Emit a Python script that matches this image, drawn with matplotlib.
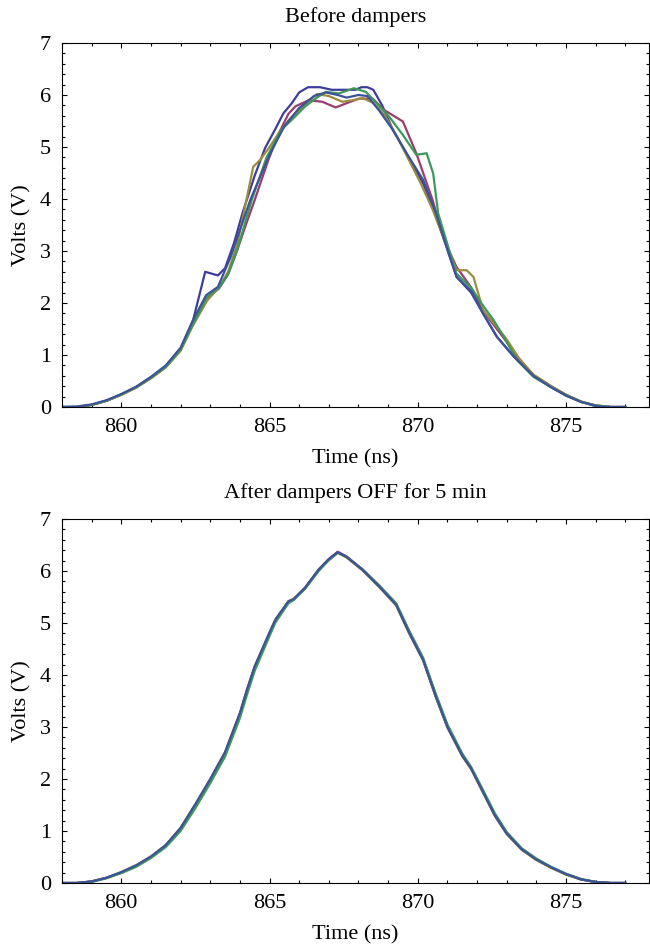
import numpy as np
import matplotlib
matplotlib.use("Agg")
import matplotlib.pyplot as plt
from matplotlib.ticker import MultipleLocator

plt.rcParams['font.family'] = ['Liberation Serif', 'DejaVu Serif']

# ---- Before dampers: five traces (time in ns, volts) ----
t_b1 = [858, 858.5, 859, 859.5, 860, 860.5, 861, 861.5, 862, 862.4, 862.83, 863.26, 863.5, 863.8,
        864.1, 864.5, 864.85, 865.2, 865.47, 865.75, 866.0, 866.3, 866.7, 867.1, 867.5, 867.9, 868.1,
        868.3, 868.5, 868.8, 869.16, 869.6, 870.18, 870.6, 870.97, 871.31, 871.8, 872.2, 872.67,
        873.24, 873.9, 874.5, 875.0, 875.5, 876.0, 876.5, 877.0]
v_b1 = [0, 0.0, 0.04, 0.12, 0.24, 0.38, 0.57, 0.78, 1.12, 1.62, 2.6, 2.53, 2.67, 3.15,
        3.75, 4.45, 4.98, 5.35, 5.65, 5.84, 6.05, 6.15, 6.15, 6.1, 6.1, 6.1, 6.15,
        6.15, 6.1, 5.8, 5.33, 4.9, 4.3, 3.7, 3.08, 2.5, 2.2, 1.8, 1.35,
        0.97, 0.6, 0.38, 0.22, 0.1, 0.02, 0, 0]

t_b2 = [858, 858.5, 859, 859.5, 860, 860.5, 861, 861.5, 862, 862.4, 862.9, 863.3, 863.6, 863.9,
        864.2, 864.5, 864.96, 865.3, 865.64, 865.87, 866.32, 866.78, 867.23, 867.68, 868.02, 868.48,
        868.87, 869.5, 869.95, 870.5, 870.9, 871.3, 871.8, 872.2, 872.6, 873.0, 873.4, 873.9, 874.5,
        875.0, 875.5, 876.0, 876.5, 877.0]
v_b2 = [0, 0, 0.04, 0.12, 0.24, 0.38, 0.56, 0.77, 1.1, 1.58, 2.1, 2.28, 2.55, 3.0,
        3.5, 3.98, 4.75, 5.25, 5.64, 5.78, 5.9, 5.87, 5.76, 5.86, 5.93, 5.93,
        5.71, 5.49, 4.88, 3.98, 3.2, 2.7, 2.3, 1.85, 1.55, 1.25, 0.93, 0.62, 0.4,
        0.23, 0.1, 0.03, 0, 0]

t_b3 = [858, 858.5, 859, 859.5, 860, 860.5, 861, 861.5, 862, 862.4, 862.9, 863.3, 863.6, 863.9,
        864.22, 864.45, 864.68, 865.0, 865.35, 865.7, 866.1, 866.6, 867.0, 867.46, 867.8, 868.14,
        868.5, 868.9, 869.3, 869.7, 870.1, 870.5, 870.9, 871.31, 871.65, 871.88, 872.2, 872.67,
        873.0, 873.4, 873.9, 874.5, 875.0, 875.5, 876.0, 876.5, 877.0]
v_b3 = [0, 0, 0.04, 0.12, 0.23, 0.37, 0.55, 0.76, 1.08, 1.55, 2.05, 2.3, 2.6, 3.1,
        3.98, 4.62, 4.75, 5.0, 5.3, 5.55, 5.77, 6.02, 5.98, 5.87, 5.9, 5.94,
        5.85, 5.6, 5.2, 4.75, 4.3, 3.8, 3.2, 2.63, 2.63, 2.5, 1.87, 1.54,
        1.3, 0.95, 0.62, 0.4, 0.24, 0.11, 0.03, 0, 0]

t_b4 = [858, 858.5, 859, 859.5, 860, 860.5, 861, 861.5, 862, 862.4, 862.9, 863.3, 863.6, 863.9,
        864.4, 864.9, 865.4, 865.8, 866.2, 866.6, 866.9, 867.34, 867.85, 868.25, 868.6, 869.04,
        869.5, 869.95, 870.3, 870.52, 870.69, 871.09, 871.3, 871.82, 872.2, 872.56, 872.9, 873.35,
        873.9, 874.5, 875.0, 875.5, 876.0, 876.5, 877.0]
v_b4 = [0, 0, 0.04, 0.12, 0.24, 0.38, 0.56, 0.77, 1.1, 1.57, 2.12, 2.3, 2.55, 3.0,
        3.98, 4.8, 5.33, 5.55, 5.78, 5.95, 6.06, 6.03, 6.13, 6.06, 5.85, 5.58,
        5.23, 4.85, 4.88, 4.49, 3.72, 2.96, 2.57, 2.28, 1.95, 1.67, 1.35, 0.9,
        0.58, 0.38, 0.23, 0.1, 0.03, 0, 0]

t_b5 = [858, 858.5, 859, 859.5, 860, 860.5, 861, 861.5, 862, 862.4, 862.86, 863.26, 863.7, 864.0,
        864.35, 864.7, 865.0, 865.5, 866.0, 866.5, 866.9, 867.3, 867.6, 868.0, 868.3, 868.7,
        869.16, 869.6, 870.18, 870.6, 870.97, 871.31, 871.82, 872.2, 872.67, 873.24, 873.9, 874.5,
        875.0, 875.5, 876.0, 876.5, 877.0]
v_b5 = [0, 0.01, 0.05, 0.13, 0.25, 0.39, 0.58, 0.8, 1.14, 1.65, 2.15, 2.31, 2.9, 3.4,
        3.98, 4.45, 4.85, 5.4, 5.75, 5.98, 6.05, 6.0, 5.95, 6.0, 5.98, 5.7,
        5.33, 4.9, 4.37, 3.75, 3.08, 2.5, 2.22, 1.8, 1.35, 0.97, 0.6, 0.38,
        0.22, 0.1, 0.02, 0, 0]

# ---- After dampers OFF for 5 min: five traces on a common time grid ----
t_after = [858, 858.5, 859, 859.5, 860, 860.5, 861, 861.5, 862, 862.5, 863, 863.5, 864, 864.25,
           864.5, 865, 865.2, 865.64, 865.81, 866.2, 866.66, 867.0, 867.3, 867.6, 868.14, 868.7,
           869.27, 869.72, 870.18, 870.6, 871.0, 871.5, 871.8, 872.2, 872.6, 873.0, 873.5, 874.0,
           874.5, 875.0, 875.5, 876.0, 876.5, 877.0]
v_a1 = [0, 0, 0.03, 0.1, 0.2, 0.33, 0.5, 0.72, 1.05, 1.5, 1.98, 2.5, 3.25, 3.72,
        4.15, 4.8, 5.05, 5.41, 5.45, 5.67, 6.02, 6.22, 6.36, 6.27, 6.02, 5.7,
        5.35, 4.8, 4.29, 3.6, 3.0, 2.45, 2.2, 1.75, 1.3, 0.95, 0.65, 0.45,
        0.3, 0.17, 0.07, 0.02, 0, 0]
v_a2 = [0, 0, 0.03, 0.1, 0.2, 0.33, 0.5, 0.71, 1.04, 1.49, 1.97, 2.49, 3.23, 3.7,
        4.13, 4.79, 5.04, 5.4, 5.45, 5.68, 6.03, 6.23, 6.37, 6.28, 6.03, 5.72,
        5.37, 4.83, 4.32, 3.63, 3.03, 2.47, 2.22, 1.77, 1.32, 0.97, 0.66, 0.46,
        0.3, 0.17, 0.07, 0.02, 0, 0]
v_a3 = [0, 0, 0.03, 0.1, 0.21, 0.34, 0.51, 0.73, 1.06, 1.51, 1.99, 2.51, 3.26, 3.73,
        4.16, 4.81, 5.06, 5.42, 5.46, 5.67, 6.02, 6.21, 6.35, 6.26, 6.01, 5.69,
        5.34, 4.79, 4.28, 3.59, 2.99, 2.44, 2.19, 1.74, 1.29, 0.94, 0.64, 0.44,
        0.29, 0.16, 0.07, 0.02, 0, 0]
v_a4 = [0, 0, 0.02, 0.09, 0.19, 0.31, 0.48, 0.69, 1.0, 1.44, 1.92, 2.43, 3.17, 3.64,
        4.08, 4.75, 5.01, 5.38, 5.44, 5.66, 6.0, 6.21, 6.35, 6.27, 6.03, 5.72,
        5.38, 4.84, 4.33, 3.65, 3.05, 2.49, 2.23, 1.79, 1.34, 0.98, 0.67, 0.47,
        0.31, 0.18, 0.08, 0.02, 0, 0]
v_a5 = [0, 0, 0.03, 0.1, 0.21, 0.34, 0.51, 0.73, 1.06, 1.52, 2.0, 2.52, 3.27, 3.74,
        4.17, 4.82, 5.07, 5.42, 5.46, 5.68, 6.03, 6.23, 6.36, 6.27, 6.02, 5.7,
        5.35, 4.8, 4.29, 3.6, 3.0, 2.45, 2.2, 1.75, 1.3, 0.95, 0.65, 0.45,
        0.3, 0.17, 0.07, 0.02, 0, 0]

# Mathematica-style default colours
colors = ['#3e3d99', '#993d70', '#998e3d', '#3d995a', '#3d5399']
titles = ['Before dampers', 'After dampers OFF for 5 min']

before = [(t_b1, v_b1), (t_b2, v_b2), (t_b3, v_b3), (t_b4, v_b4), (t_b5, v_b5)]
after = [(t_after, v) for v in (v_a1, v_a2, v_a3, v_a4, v_a5)]

fig = plt.figure(figsize=(6.5, 9.44), dpi=100)
ax1 = fig.add_axes([62/650, 1 - 407/944, 587/650, 364/944])
ax2 = fig.add_axes([62/650, 1 - 883/944, 587/650, 364/944])

for ax, traces, title in zip([ax1, ax2], [before, after], titles):
    for (t, v), c in zip(traces, colors):
        ax.plot(t, v, color=c, lw=1.6)
    ax.set_xlim(858, 877.8)
    ax.set_ylim(0, 7)
    ax.xaxis.set_major_locator(MultipleLocator(5))
    ax.xaxis.set_minor_locator(MultipleLocator(1))
    ax.yaxis.set_major_locator(MultipleLocator(1))
    ax.yaxis.set_minor_locator(MultipleLocator(0.2))
    ax.tick_params(which='both', direction='in', top=True, right=True, labelsize=16, width=0.8)
    ax.tick_params(which='major', length=3.5)
    ax.tick_params(which='minor', length=2)
    ax.tick_params(axis='x', pad=8)
    ax.tick_params(axis='y', pad=8)
    for s in ax.spines.values():
        s.set_linewidth(0.8)
    ax.set_xlabel('Time (ns)', fontsize=16, labelpad=9)
    ax.set_ylabel('Volts (V)', fontsize=16, labelpad=6)
    ax.set_title(title, fontsize=16, pad=15)

fig.savefig('out.png', dpi=100)
